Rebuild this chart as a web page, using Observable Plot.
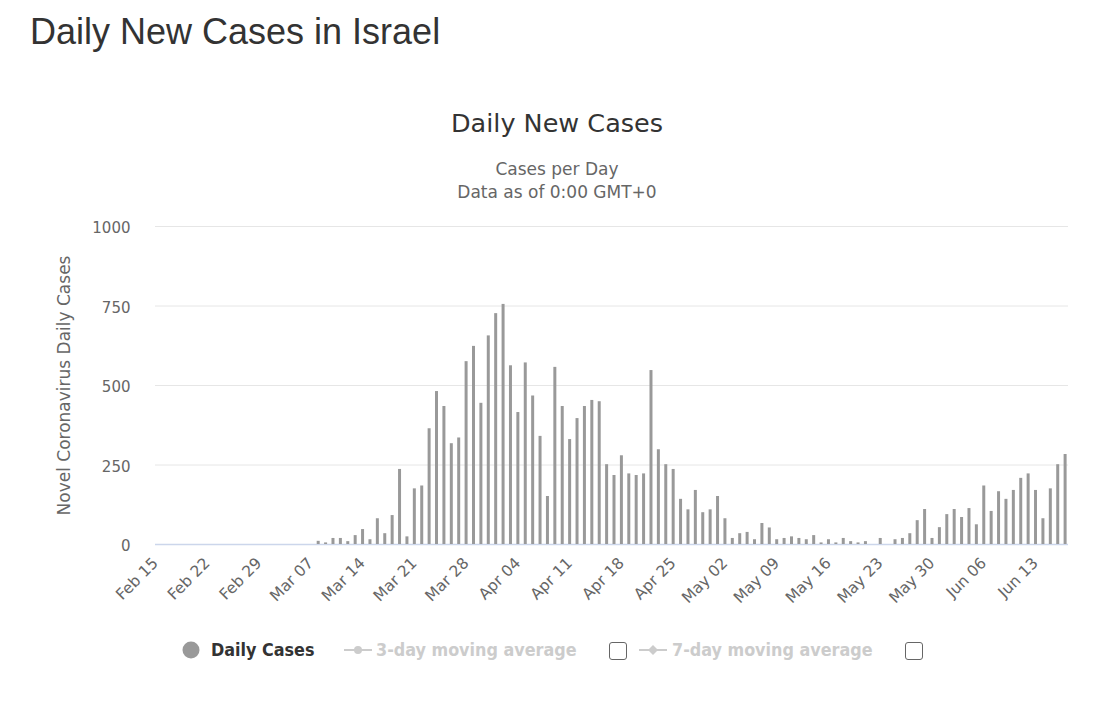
<!DOCTYPE html>
<html>
<head>
<meta charset="utf-8">
<script src="https://cdn.jsdelivr.net/npm/d3@7"></script>
<script src="https://cdn.jsdelivr.net/npm/@observablehq/plot@0.6"></script>
<style>
  html, body { margin: 0; padding: 0; background: #fff; width: 1095px; height: 701px; overflow: hidden; }
  body { position: relative; font-family: "DejaVu Sans", sans-serif; }
  .cond { font-family: "DejaVu Sans Condensed", "DejaVu Sans", sans-serif; font-stretch: condensed; }
  #pagetitle { position: absolute; left: 30px; top: 11px; font-family: "Liberation Sans", Arial, sans-serif; font-size: 36px; color: #333; white-space: nowrap; }
  #ctitle { position: absolute; left: 0; width: 1114px; top: 108px; text-align: center; font-size: 25.5px; color: #333; }
  #csub { position: absolute; left: 0; width: 1114px; top: 158px; text-align: center; font-size: 17px; line-height: 23px; color: #666; }
  #chart { position: absolute; left: 0; top: 200px; }
  .leg { position: absolute; top: 639px; font-size: 17.8px; font-weight: bold; white-space: nowrap; line-height: 22px; }
  .box { position: absolute; top: 642px; width: 18px; height: 18px; border: 1px solid #666; border-radius: 3px; box-sizing: border-box; }
  .sym { position: absolute; top: 640px; }
</style>
</head>
<body>
<div id="pagetitle">Daily New Cases in Israel</div>
<div id="ctitle">Daily New Cases</div>
<div id="csub">Cases per Day<br>Data as of 0:00 GMT+0</div>
<div id="chart"></div>

<svg class="sym" style="left:181px" width="20" height="20"><circle cx="10" cy="10" r="8.5" fill="#999"/></svg>
<div class="leg cond" style="left:211px;color:#333">Daily Cases</div>
<svg class="sym" style="left:344px" width="28" height="20"><line x1="0" x2="28" y1="10" y2="10" stroke="#ccc" stroke-width="2"/><circle cx="14" cy="10" r="4" fill="#ccc"/></svg>
<div class="leg cond" style="left:376px;color:#ccc">3-day moving average</div>
<div class="box" style="left:609px"></div>
<svg class="sym" style="left:639px" width="28" height="20"><line x1="0" x2="28" y1="10" y2="10" stroke="#ccc" stroke-width="2"/><path d="M14,5 L19,10 L14,15 L9,10 Z" fill="#ccc"/></svg>
<div class="leg cond" style="left:672px;color:#ccc">7-day moving average</div>
<div class="box" style="left:905px"></div>

<script>
// ---- data ----
const startDate = "2020-02-15";           // first category on the axis
const dailyCases = [
  // Feb 15 – Mar 7 (no cases shown)
  0,0,0,0,0,0,0,0,0,0,0,0,0,0,0,0,0,0,0,0,0,0,
  // Mar 8 – Mar 31
  10,5,19,19,9,28,47,15,81,34,91,236,24,175,184,364,481,434,317,335,575,623,444,656,
  // Apr 1 – Apr 30
  726,755,562,415,571,467,340,151,557,434,330,396,434,453,449,251,217,279,222,217,222,547,298,251,236,142,109,170,100,109,
  // May 1 – May 31
  151,81,19,34,38,15,66,52,15,19,24,19,15,28,5,15,5,19,9,5,9,0,19,0,15,19,34,75,110,19,53,
  // Jun 1 – Jun 17
  94,110,85,113,62,184,104,166,142,170,208,222,170,81,175,251,283
];
const tickLabels = ["2020-02-15","2020-02-22","2020-02-29","2020-03-07","2020-03-14","2020-03-21",
  "2020-03-28","2020-04-04","2020-04-11","2020-04-18","2020-04-25","2020-05-02","2020-05-09",
  "2020-05-16","2020-05-23","2020-05-30","2020-06-06","2020-06-13"];
const yTicks = [0, 250, 500, 750, 1000];

const start = new Date(startDate + "T00:00:00Z");
const table = dailyCases.map((v, i) => ({date: d3.utcDay.offset(start, i), value: v}));
const lastDate = table[table.length - 1].date;
const xEnd = new Date(+lastDate + 11 * 3600 * 1000);

const chart = Plot.plot({
  width: 1095,
  height: 420,
  marginLeft: 155,
  marginRight: 27,
  marginTop: 26,
  marginBottom: 76,
  style: {fontFamily: '"DejaVu Sans", sans-serif', fontSize: "15px", color: "#666", background: "transparent"},
  x: {type: "utc", domain: [start, xEnd]},
  y: {domain: [0, 1000]},
  marks: [
    Plot.gridY(yTicks.filter(d => d > 0), {stroke: "#e6e6e6", strokeOpacity: 1}),
    Plot.ruleY([0], {stroke: "#ccd6eb", strokeWidth: 1.5}),
    Plot.ruleX(table, {x: "date", y1: 0, y2: "value", stroke: "#999", strokeWidth: 3}),
    Plot.axisY(yTicks, {tickSize: 0, tickPadding: 25, fontSize: 15, fill: "#666", tickFormat: d3.format("d"),
      dy: 2, label: null}),
    Plot.axisY({ticks: [], tickSize: 0, fontSize: 17, fill: "#666",
      label: "Novel Coronavirus Daily Cases", labelAnchor: "center", labelArrow: "none", labelOffset: 98}),
    Plot.axisX(tickLabels.map(s => new Date(s + "T00:00:00Z")), {tickSize: 0, tickPadding: 16, tickRotate: -45,
      tickFormat: d3.utcFormat("%b %d"), fontSize: 15.5, fill: "#666", label: null})
  ]
});
document.getElementById("chart").appendChild(chart);
</script>
</body>
</html>
